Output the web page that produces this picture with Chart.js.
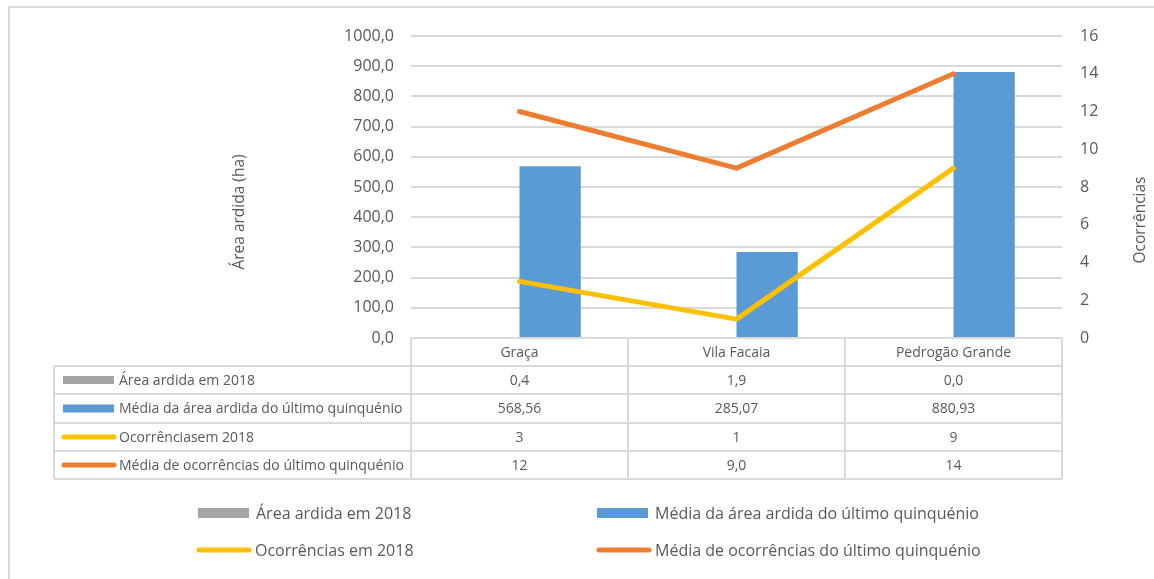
<!DOCTYPE html>
<html>
<head>
<meta charset="utf-8">
<script src="https://cdn.jsdelivr.net/npm/chart.js@4/dist/chart.umd.min.js"></script>
<style>
html,body{margin:0;padding:0;background:#fff;}
#wrap{width:1154px;height:579px;position:relative;}
</style>
</head>
<body>
<div id="wrap"><canvas id="c" width="1154" height="579"></canvas></div>
<script>
// ---- data ----
const categories = ['Graça', 'Vila Facaia', 'Pedrogão Grande'];
const seriesNames = [
  'Área ardida em 2018',
  'Média da área ardida do último quinquénio',
  'Ocorrências em 2018',
  'Média de ocorrências do último quinquénio'
];
const tableRowNames = [
  'Área ardida em 2018',
  'Média da área ardida do último quinquénio',
  'Ocorrênciasem 2018',
  'Média de ocorrências do último quinquénio'
];
const areaArdida2018 = [0.4, 1.9, 0.0];
const mediaAreaArdida = [568.56, 285.07, 880.93];
const ocorrencias2018 = [3, 1, 9];
const mediaOcorrencias = [12, 9.0, 14];
const tableArea2018Text = ['0,4', '1,9', '0,0'];
const tableMediaAreaText = ['568,56', '285,07', '880,93'];
const tableOcorrText = ['3', '1', '9'];
const tableMediaOcorrText = ['12', '9,0', '14'];
const leftAxisTitle = 'Área ardida (ha)';
const rightAxisTitle = 'Ocorrências';

// ---- styles ----
const TXT = '#595959';
const GRID = '#d9d9d9';
const colors = ['#A5A5A5', '#5B9BD5', '#FFC000', '#ED7D31'];
const FONT = "'Open Sans', 'DejaVu Sans', sans-serif";

const tablePlugin = {
  id: 'tablePlugin',
  afterDraw(chart) {
    const ctx = chart.ctx;
    const ca = chart.chartArea;
    const n = categories.length;
    const cw = (ca.right - ca.left) / n;
    const rows = [ca.bottom, 366, 394, 423, 451, 479];
    const tableLeft = 54;
    ctx.save();
    // outer frame (top/left)
    ctx.strokeStyle = GRID; ctx.lineWidth = 2;
    ctx.beginPath();
    ctx.moveTo(8, 7); ctx.lineTo(1154, 7);
    ctx.moveTo(9, 7); ctx.lineTo(9, 579);
    ctx.stroke();
    // table lines
    ctx.beginPath();
    ctx.moveTo(ca.left, rows[0]); ctx.lineTo(ca.right, rows[0]);
    for (let r = 1; r < rows.length; r++) {
      ctx.moveTo(tableLeft, rows[r]); ctx.lineTo(ca.right, rows[r]);
    }
    for (let i = 0; i <= n; i++) {
      const x = ca.left + i * cw;
      ctx.moveTo(x, rows[0]); ctx.lineTo(x, rows[rows.length - 1]);
    }
    ctx.moveTo(tableLeft, rows[1]); ctx.lineTo(tableLeft, rows[rows.length - 1]);
    ctx.stroke();
    // header
    ctx.fillStyle = TXT;
    ctx.font = '14px ' + FONT;
    ctx.textAlign = 'center'; ctx.textBaseline = 'middle';
    categories.forEach((c, i) => {
      ctx.fillText(c, ca.left + (i + 0.5) * cw, (rows[0] + rows[1]) / 2 + 1);
    });
    const texts = [tableArea2018Text, tableMediaAreaText, tableOcorrText, tableMediaOcorrText];
    for (let r = 0; r < 4; r++) {
      const yc = (rows[r + 1] + rows[r + 2]) / 2;
      if (r < 2) {
        ctx.fillStyle = colors[r];
        ctx.fillRect(63, yc - 4, 51, 8);
      } else {
        ctx.strokeStyle = colors[r]; ctx.lineWidth = 5; ctx.lineCap = 'round';
        ctx.beginPath(); ctx.moveTo(64, yc); ctx.lineTo(114, yc); ctx.stroke();
      }
      ctx.fillStyle = TXT;
      ctx.font = '14px ' + FONT;
      ctx.textAlign = 'left';
      ctx.fillText(tableRowNames[r], 119, yc + 1);
      ctx.textAlign = 'center';
      texts[r].forEach((t, i) => ctx.fillText(t, ca.left + (i + 0.5) * cw, yc + 1));
    }
    // bottom legend
    const legPos = [[198, 513], [597, 513], [197, 550], [597, 550]];
    ctx.font = '16px ' + FONT;
    ctx.textAlign = 'left';
    for (let k = 0; k < 4; k++) {
      const [x, y] = legPos[k];
      if (k < 2) {
        ctx.fillStyle = colors[k];
        ctx.fillRect(x, y - 5, 51, 10);
      } else {
        ctx.strokeStyle = colors[k]; ctx.lineWidth = 5; ctx.lineCap = 'round';
        ctx.beginPath(); ctx.moveTo(x + 2, y); ctx.lineTo(x + 52, y); ctx.stroke();
      }
      ctx.fillStyle = TXT;
      ctx.fillText(seriesNames[k], x + 58, y + 1);
    }
    // axis titles
    ctx.font = '15.5px ' + FONT;
    ctx.textAlign = 'center';
    ctx.save();
    ctx.translate(240, 212); ctx.rotate(-Math.PI / 2);
    ctx.fillText(leftAxisTitle, 0, 0);
    ctx.restore();
    ctx.save();
    ctx.translate(1141, 220); ctx.rotate(-Math.PI / 2);
    ctx.fillText(rightAxisTitle, 0, 0);
    ctx.restore();
    ctx.restore();
  }
};

new Chart(document.getElementById('c'), {
  type: 'bar',
  data: {
    labels: categories,
    datasets: [
      { type: 'bar', label: seriesNames[0], data: areaArdida2018, backgroundColor: colors[0], yAxisID: 'y', order: 3,
        categoryPercentage: 0.565, barPercentage: 1.0 },
      { type: 'bar', label: seriesNames[1], data: mediaAreaArdida, backgroundColor: colors[1], yAxisID: 'y', order: 3,
        categoryPercentage: 0.565, barPercentage: 1.0 },
      { type: 'line', label: seriesNames[2], data: ocorrencias2018, borderColor: colors[2], backgroundColor: colors[2],
        borderWidth: 5, pointRadius: 0, pointHoverRadius: 0, yAxisID: 'y1', order: 1, tension: 0,
        borderCapStyle: 'round', borderJoinStyle: 'round' },
      { type: 'line', label: seriesNames[3], data: mediaOcorrencias, borderColor: colors[3], backgroundColor: colors[3],
        borderWidth: 5, pointRadius: 0, pointHoverRadius: 0, yAxisID: 'y1', order: 0, tension: 0,
        borderCapStyle: 'round', borderJoinStyle: 'round' }
    ]
  },
  options: {
    responsive: false,
    animation: false,
    layout: { padding: { top: 36, bottom: 241, left: 0, right: 0 } },
    plugins: { legend: { display: false }, tooltip: { enabled: false } },
    scales: {
      x: { display: false, offset: true },
      y: {
        position: 'left', min: 0, max: 1000,
        ticks: { stepSize: 100, color: TXT, font: { size: 16, family: FONT }, padding: 17,
          callback: v => v.toFixed(1).replace('.', ',') },
        grid: { color: GRID, lineWidth: 2, drawTicks: false },
        border: { display: false },
        afterFit: s => { s.width = 411; }
      },
      y1: {
        position: 'right', min: 0, max: 16,
        ticks: { stepSize: 2, color: TXT, font: { size: 16, family: FONT }, padding: 18 },
        grid: { drawOnChartArea: false, drawTicks: false },
        border: { display: false },
        afterFit: s => { s.width = 92; }
      }
    }
  },
  plugins: [tablePlugin]
});
</script>
</body>
</html>
